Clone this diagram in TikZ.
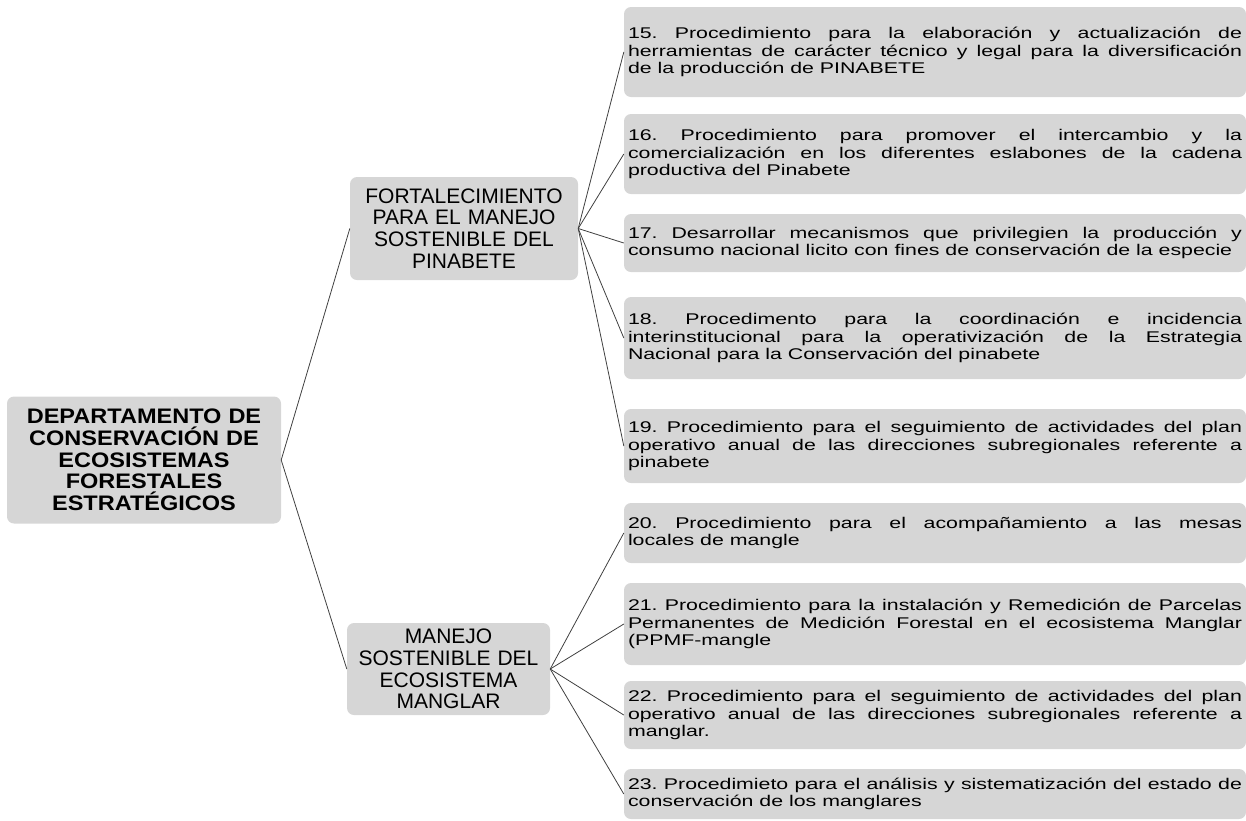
\documentclass[tikz,border=0pt]{standalone}
\usepackage{fontspec}
\setmainfont{Liberation Sans}
\newfontfamily\leaffont{Liberation Sans}[FakeStretch=1.375]
\newfontfamily\rootfont{Liberation Sans}[FakeStretch=1.12]
\usetikzlibrary{calc}
\newcommand{\leafpad}{\par\vspace{8pt}}
\tikzset{
  boxfill/.style={fill=black!16, rounded corners=7pt, draw=none},
  rootbox/.style={boxfill, align=center, font=\rootfont\bfseries\fontsize{21}{21.7}\selectfont,
    minimum width=274pt, minimum height=127pt, text width=262pt, inner sep=0pt},
  midbox/.style={boxfill, align=center, font=\fontsize{21}{21.7}\selectfont, inner sep=0pt},
  leaf/.style={boxfill, align=justify, font=\leaffont\fontsize{15.5}{17.5}\selectfont\frenchspacing,
    text width=614pt, inner xsep=4pt, inner ysep=0pt, minimum height=#1},
  conn/.style={draw=black!75, line width=0.8pt}
}
\begin{document}
\begin{tikzpicture}[x=1pt,y=1pt]
\useasboundingbox (0,0) rectangle (1246,-820);
\node[rootbox] (root) at (144,-460) {DEPARTAMENTO DE\\CONSERVACIÓN DE\\ECOSISTEMAS\\FORESTALES\\ESTRATÉGICOS};
\node[midbox, minimum width=228pt, minimum height=103pt, text width=220pt] (m1) at (464,-228.5) {FORTALECIMIENTO\\PARA EL MANEJO\\SOSTENIBLE DEL\\PINABETE};
\node[midbox, minimum width=203pt, minimum height=92pt, text width=195pt] (m2) at (448.5,-669) {MANEJO\\SOSTENIBLE DEL\\ECOSISTEMA\\MANGLAR};

\node[leaf=90pt] (l15) at (935,-52) {15. Procedimiento para la elaboración y actualización de\linebreak herramientas de carácter técnico y legal para la diversificación\linebreak de la producción de PINABETE\leafpad};
\node[leaf=80pt] (l16) at (935,-154) {16. Procedimiento para promover el intercambio y la\linebreak comercialización en los diferentes eslabones de la cadena\linebreak productiva del Pinabete\leafpad};
\node[leaf=58pt] (l17) at (935,-243) {17. Desarrollar mecanismos que privilegien la producción y\linebreak consumo nacional licito con fines de conservación de la especie\leafpad};
\node[leaf=82pt] (l18) at (935,-338) {18. Procedimento para la coordinación e incidencia\linebreak interinstitucional para la operativización de la Estrategia\linebreak Nacional para la Conservación del pinabete\leafpad};
\node[leaf=74pt] (l19) at (935,-446) {19. Procedimiento para el seguimiento de actividades del plan\linebreak operativo anual de las direcciones subregionales referente a\linebreak pinabete\leafpad};
\node[leaf=60pt] (l20) at (935,-533) {20. Procedimiento para el acompañamiento a las mesas\linebreak locales de mangle\leafpad};
\node[leaf=82pt] (l21) at (935,-624) {21. Procedimiento para la instalación y Remedición de Parcelas\linebreak Permanentes de Medición Forestal en el ecosistema Manglar\linebreak (PPMF-mangle\leafpad};
\node[leaf=68pt] (l22) at (935,-715) {22. Procedimiento para el seguimiento de actividades del plan\linebreak operativo anual de las direcciones subregionales referente a\linebreak manglar.\leafpad};
\node[leaf=50pt] (l23) at (935,-794) {23. Procedimieto para el análisis y sistematización del estado de\linebreak conservación de los manglares\leafpad};

\draw[conn] (root.east) -- (m1.west);
\draw[conn] (root.east) -- (m2.west);
\foreach \n in {15,16,17,18,19} \draw[conn] (m1.east) -- (l\n.west);
\foreach \n in {20,21,22,23} \draw[conn] (m2.east) -- (l\n.west);
\end{tikzpicture}
\end{document}
